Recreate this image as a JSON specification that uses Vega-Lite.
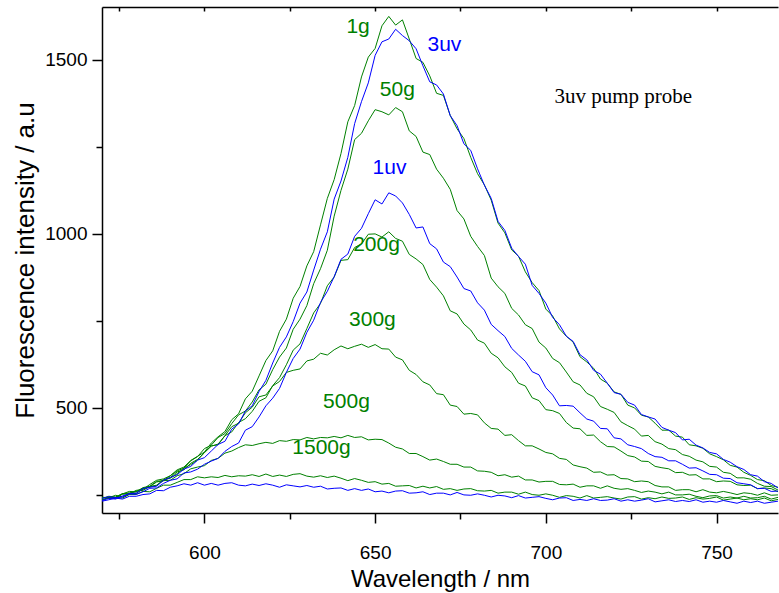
{
  "$schema": "https://vega.github.io/schema/vega-lite/v6.json",
  "width": 676,
  "height": 506,
  "autosize": {"type": "none"},
  "padding": {"left": 102, "top": 7, "right": 1, "bottom": 80},
  "background": "white",
  "config": {"view": {"stroke": null}, "font": "Liberation Sans"},
  "datasets": {
    "spectra": [
      {"nm":570,"g1":240,"uv3":240,"g50":243,"uv1":234,"g200":243,"g300":243,"g500":236,"g1500":235,"uv0":232},
      {"nm":572,"g1":246,"uv3":245,"g50":242,"uv1":240,"g200":240,"g300":242,"g500":242,"g1500":242,"uv0":236},
      {"nm":574,"g1":244,"uv3":242,"g50":240,"uv1":238,"g200":242,"g300":243,"g500":249,"g1500":241,"uv0":241},
      {"nm":576,"g1":254,"uv3":244,"g50":253,"uv1":247,"g200":252,"g300":253,"g500":244,"g1500":241,"uv0":238},
      {"nm":578,"g1":253,"uv3":254,"g50":256,"uv1":253,"g200":253,"g300":260,"g500":253,"g1500":251,"uv0":246},
      {"nm":580,"g1":263,"uv3":255,"g50":259,"uv1":252,"g200":254,"g300":259,"g500":261,"g1500":251,"uv0":246},
      {"nm":582,"g1":266,"uv3":268,"g50":271,"uv1":259,"g200":267,"g300":269,"g500":263,"g1500":260,"uv0":251},
      {"nm":584,"g1":280,"uv3":272,"g50":275,"uv1":269,"g200":273,"g300":274,"g500":274,"g1500":259,"uv0":253},
      {"nm":586,"g1":292,"uv3":275,"g50":289,"uv1":270,"g200":277,"g300":287,"g500":278,"g1500":269,"uv0":263},
      {"nm":588,"g1":296,"uv3":292,"g50":291,"uv1":283,"g200":294,"g300":291,"g500":291,"g1500":278,"uv0":262},
      {"nm":590,"g1":305,"uv3":300,"g50":305,"uv1":292,"g200":298,"g300":300,"g500":292,"g1500":278,"uv0":272},
      {"nm":592,"g1":322,"uv3":308,"g50":319,"uv1":296,"g200":311,"g300":316,"g500":305,"g1500":286,"uv0":276},
      {"nm":594,"g1":330,"uv3":324,"g50":327,"uv1":313,"g200":327,"g300":322,"g500":311,"g1500":294,"uv0":282},
      {"nm":596,"g1":349,"uv3":332,"g50":348,"uv1":316,"g200":337,"g300":341,"g500":325,"g1500":294,"uv0":278},
      {"nm":598,"g1":361,"uv3":350,"g50":360,"uv1":324,"g200":350,"g300":352,"g500":330,"g1500":302,"uv0":285},
      {"nm":600,"g1":373,"uv3":357,"g50":383,"uv1":338,"g200":372,"g300":371,"g500":334,"g1500":299,"uv0":278},
      {"nm":602,"g1":399,"uv3":376,"g50":393,"uv1":347,"g200":390,"g300":391,"g500":349,"g1500":302,"uv0":283},
      {"nm":604,"g1":417,"uv3":395,"g50":415,"uv1":355,"g200":396,"g300":394,"g500":355,"g1500":300,"uv0":278},
      {"nm":606,"g1":432,"uv3":404,"g50":426,"uv1":375,"g200":420,"g300":420,"g500":370,"g1500":306,"uv0":283},
      {"nm":608,"g1":466,"uv3":439,"g50":455,"uv1":389,"g200":431,"g300":446,"g500":376,"g1500":302,"uv0":285},
      {"nm":610,"g1":483,"uv3":454,"g50":480,"uv1":399,"g200":458,"g300":456,"g500":386,"g1500":305,"uv0":278},
      {"nm":612,"g1":526,"uv3":491,"g50":491,"uv1":436,"g200":469,"g300":486,"g500":394,"g1500":304,"uv0":276},
      {"nm":614,"g1":548,"uv3":506,"g50":517,"uv1":446,"g200":490,"g300":502,"g500":392,"g1500":308,"uv0":281},
      {"nm":616,"g1":592,"uv3":547,"g50":552,"uv1":474,"g200":519,"g300":532,"g500":397,"g1500":303,"uv0":277},
      {"nm":618,"g1":636,"uv3":579,"g50":568,"uv1":506,"g200":529,"g300":537,"g500":401,"g1500":310,"uv0":282},
      {"nm":620,"g1":664,"uv3":629,"g50":610,"uv1":528,"g200":564,"g300":563,"g500":398,"g1500":303,"uv0":278},
      {"nm":622,"g1":720,"uv3":674,"g50":646,"uv1":556,"g200":587,"g300":576,"g500":406,"g1500":307,"uv0":272},
      {"nm":624,"g1":755,"uv3":704,"g50":672,"uv1":602,"g200":624,"g300":602,"g500":404,"g1500":303,"uv0":279},
      {"nm":626,"g1":815,"uv3":748,"g50":726,"uv1":642,"g200":666,"g300":608,"g500":409,"g1500":309,"uv0":276},
      {"nm":628,"g1":849,"uv3":801,"g50":755,"uv1":669,"g200":684,"g300":612,"g500":408,"g1500":311,"uv0":273},
      {"nm":630,"g1":908,"uv3":833,"g50":794,"uv1":717,"g200":728,"g300":635,"g500":415,"g1500":304,"uv0":277},
      {"nm":632,"g1":949,"uv3":896,"g50":857,"uv1":752,"g200":773,"g300":640,"g500":411,"g1500":301,"uv0":272},
      {"nm":634,"g1":1026,"uv3":956,"g50":900,"uv1":803,"g200":800,"g300":657,"g500":415,"g1500":305,"uv0":275},
      {"nm":636,"g1":1102,"uv3":1006,"g50":953,"uv1":835,"g200":851,"g300":652,"g500":414,"g1500":300,"uv0":267},
      {"nm":638,"g1":1156,"uv3":1100,"g50":1051,"uv1":877,"g200":876,"g300":667,"g500":418,"g1500":304,"uv0":269},
      {"nm":640,"g1":1231,"uv3":1152,"g50":1125,"uv1":927,"g200":924,"g300":678,"g500":414,"g1500":298,"uv0":270},
      {"nm":642,"g1":1322,"uv3":1220,"g50":1186,"uv1":942,"g200":926,"g300":670,"g500":421,"g1500":291,"uv0":263},
      {"nm":644,"g1":1369,"uv3":1317,"g50":1271,"uv1":993,"g200":961,"g300":677,"g500":415,"g1500":297,"uv0":268},
      {"nm":646,"g1":1451,"uv3":1380,"g50":1289,"uv1":1016,"g200":971,"g300":683,"g500":417,"g1500":292,"uv0":263},
      {"nm":648,"g1":1508,"uv3":1434,"g50":1325,"uv1":1058,"g200":999,"g300":674,"g500":408,"g1500":286,"uv0":267},
      {"nm":650,"g1":1533,"uv3":1513,"g50":1357,"uv1":1098,"g200":1000,"g300":682,"g500":410,"g1500":288,"uv0":259},
      {"nm":652,"g1":1598,"uv3":1552,"g50":1351,"uv1":1086,"g200":991,"g300":670,"g500":409,"g1500":281,"uv0":261},
      {"nm":654,"g1":1625,"uv3":1560,"g50":1342,"uv1":1118,"g200":1006,"g300":669,"g500":399,"g1500":283,"uv0":256},
      {"nm":656,"g1":1600,"uv3":1588,"g50":1363,"uv1":1109,"g200":987,"g300":646,"g500":387,"g1500":275,"uv0":261},
      {"nm":658,"g1":1615,"uv3":1570,"g50":1351,"uv1":1089,"g200":979,"g300":638,"g500":382,"g1500":276,"uv0":262},
      {"nm":660,"g1":1560,"uv3":1555,"g50":1296,"uv1":1056,"g200":941,"g300":608,"g500":369,"g1500":277,"uv0":255},
      {"nm":662,"g1":1504,"uv3":1532,"g50":1280,"uv1":1017,"g200":928,"g300":596,"g500":369,"g1500":270,"uv0":256},
      {"nm":664,"g1":1493,"uv3":1483,"g50":1235,"uv1":1020,"g200":912,"g300":575,"g500":360,"g1500":275,"uv0":259},
      {"nm":666,"g1":1454,"uv3":1437,"g50":1228,"uv1":972,"g200":869,"g300":566,"g500":350,"g1500":270,"uv0":251},
      {"nm":668,"g1":1404,"uv3":1428,"g50":1186,"uv1":957,"g200":847,"g300":541,"g500":353,"g1500":274,"uv0":255},
      {"nm":670,"g1":1398,"uv3":1402,"g50":1160,"uv1":919,"g200":822,"g300":538,"g500":346,"g1500":266,"uv0":255},
      {"nm":672,"g1":1340,"uv3":1340,"g50":1128,"uv1":906,"g200":779,"g300":508,"g500":338,"g1500":268,"uv0":250},
      {"nm":674,"g1":1302,"uv3":1311,"g50":1067,"uv1":876,"g200":770,"g300":504,"g500":338,"g1500":263,"uv0":257},
      {"nm":676,"g1":1274,"uv3":1259,"g50":1043,"uv1":843,"g200":741,"g300":482,"g500":330,"g1500":267,"uv0":250},
      {"nm":678,"g1":1220,"uv3":1240,"g50":993,"uv1":836,"g200":724,"g300":484,"g500":330,"g1500":268,"uv0":249},
      {"nm":680,"g1":1173,"uv3":1187,"g50":964,"uv1":802,"g200":695,"g300":480,"g500":319,"g1500":262,"uv0":253},
      {"nm":682,"g1":1141,"uv3":1140,"g50":938,"uv1":781,"g200":686,"g300":457,"g500":318,"g1500":261,"uv0":249},
      {"nm":684,"g1":1097,"uv3":1102,"g50":873,"uv1":740,"g200":657,"g300":441,"g500":315,"g1500":263,"uv0":244},
      {"nm":686,"g1":1031,"uv3":1036,"g50":848,"uv1":722,"g200":644,"g300":439,"g500":305,"g1500":255,"uv0":249},
      {"nm":688,"g1":1003,"uv3":1010,"g50":829,"uv1":705,"g200":618,"g300":421,"g500":308,"g1500":258,"uv0":247},
      {"nm":690,"g1":954,"uv3":959,"g50":786,"uv1":671,"g200":602,"g300":423,"g500":301,"g1500":258,"uv0":242},
      {"nm":692,"g1":936,"uv3":935,"g50":767,"uv1":652,"g200":571,"g300":406,"g500":304,"g1500":252,"uv0":248},
      {"nm":694,"g1":891,"uv3":913,"g50":739,"uv1":634,"g200":563,"g300":391,"g500":293,"g1500":258,"uv0":241},
      {"nm":696,"g1":860,"uv3":852,"g50":728,"uv1":604,"g200":529,"g300":391,"g500":293,"g1500":251,"uv0":243},
      {"nm":698,"g1":837,"uv3":829,"g50":689,"uv1":595,"g200":521,"g300":382,"g500":287,"g1500":249,"uv0":245},
      {"nm":700,"g1":784,"uv3":801,"g50":672,"uv1":558,"g200":495,"g300":372,"g500":289,"g1500":253,"uv0":240},
      {"nm":702,"g1":764,"uv3":760,"g50":642,"uv1":537,"g200":492,"g300":368,"g500":289,"g1500":249,"uv0":236},
      {"nm":704,"g1":727,"uv3":739,"g50":630,"uv1":506,"g200":484,"g300":355,"g500":280,"g1500":243,"uv0":241},
      {"nm":706,"g1":706,"uv3":706,"g50":603,"uv1":507,"g200":458,"g300":352,"g500":279,"g1500":248,"uv0":242},
      {"nm":708,"g1":689,"uv3":691,"g50":575,"uv1":505,"g200":442,"g300":336,"g500":281,"g1500":246,"uv0":234},
      {"nm":710,"g1":647,"uv3":653,"g50":566,"uv1":486,"g200":440,"g300":331,"g500":272,"g1500":241,"uv0":237},
      {"nm":712,"g1":632,"uv3":638,"g50":542,"uv1":468,"g200":421,"g300":327,"g500":276,"g1500":248,"uv0":234},
      {"nm":714,"g1":614,"uv3":608,"g50":532,"uv1":462,"g200":422,"g300":315,"g500":276,"g1500":241,"uv0":239},
      {"nm":716,"g1":583,"uv3":597,"g50":504,"uv1":441,"g200":403,"g300":316,"g500":269,"g1500":243,"uv0":234},
      {"nm":718,"g1":571,"uv3":571,"g50":496,"uv1":440,"g200":389,"g300":307,"g500":276,"g1500":245,"uv0":235},
      {"nm":720,"g1":546,"uv3":544,"g50":487,"uv1":414,"g200":388,"g300":308,"g500":269,"g1500":241,"uv0":239},
      {"nm":722,"g1":539,"uv3":539,"g50":460,"uv1":411,"g200":376,"g300":297,"g500":266,"g1500":238,"uv0":232},
      {"nm":724,"g1":508,"uv3":516,"g50":449,"uv1":394,"g200":363,"g300":296,"g500":268,"g1500":244,"uv0":236},
      {"nm":726,"g1":500,"uv3":508,"g50":439,"uv1":389,"g200":359,"g300":288,"g500":263,"g1500":245,"uv0":232},
      {"nm":728,"g1":479,"uv3":481,"g50":419,"uv1":383,"g200":347,"g300":290,"g500":257,"g1500":238,"uv0":235},
      {"nm":730,"g1":474,"uv3":474,"g50":421,"uv1":369,"g200":346,"g300":288,"g500":261,"g1500":242,"uv0":239},
      {"nm":732,"g1":456,"uv3":468,"g50":403,"uv1":360,"g200":332,"g300":277,"g500":258,"g1500":239,"uv0":230},
      {"nm":734,"g1":436,"uv3":444,"g50":396,"uv1":358,"g200":328,"g300":273,"g500":253,"g1500":244,"uv0":233},
      {"nm":736,"g1":436,"uv3":436,"g50":383,"uv1":348,"g200":325,"g300":273,"g500":258,"g1500":240,"uv0":236},
      {"nm":738,"g1":419,"uv3":429,"g50":380,"uv1":348,"g200":314,"g300":263,"g500":250,"g1500":241,"uv0":231},
      {"nm":740,"g1":416,"uv3":408,"g50":366,"uv1":338,"g200":315,"g300":265,"g500":250,"g1500":244,"uv0":234},
      {"nm":742,"g1":394,"uv3":410,"g50":361,"uv1":327,"g200":307,"g300":265,"g500":252,"g1500":237,"uv0":231},
      {"nm":744,"g1":391,"uv3":393,"g50":350,"uv1":328,"g200":308,"g300":259,"g500":246,"g1500":242,"uv0":236},
      {"nm":746,"g1":384,"uv3":385,"g50":345,"uv1":319,"g200":296,"g300":265,"g500":242,"g1500":238,"uv0":229},
      {"nm":748,"g1":368,"uv3":372,"g50":332,"uv1":309,"g200":296,"g300":258,"g500":247,"g1500":240,"uv0":232},
      {"nm":750,"g1":360,"uv3":368,"g50":330,"uv1":308,"g200":288,"g300":256,"g500":248,"g1500":244,"uv0":229},
      {"nm":752,"g1":351,"uv3":352,"g50":315,"uv1":298,"g200":290,"g300":260,"g500":241,"g1500":235,"uv0":234},
      {"nm":754,"g1":335,"uv3":344,"g50":312,"uv1":297,"g200":289,"g300":256,"g500":244,"g1500":238,"uv0":230},
      {"nm":756,"g1":330,"uv3":331,"g50":299,"uv1":285,"g200":279,"g300":251,"g500":241,"g1500":241,"uv0":226},
      {"nm":758,"g1":315,"uv3":323,"g50":299,"uv1":282,"g200":277,"g300":256,"g500":246,"g1500":236,"uv0":232},
      {"nm":760,"g1":306,"uv3":308,"g50":295,"uv1":279,"g200":278,"g300":254,"g500":241,"g1500":239,"uv0":228},
      {"nm":762,"g1":294,"uv3":304,"g50":283,"uv1":268,"g200":268,"g300":249,"g500":242,"g1500":236,"uv0":232},
      {"nm":764,"g1":291,"uv3":288,"g50":275,"uv1":269,"g200":270,"g300":256,"g500":246,"g1500":241,"uv0":226},
      {"nm":766,"g1":277,"uv3":283,"g50":274,"uv1":260,"g200":268,"g300":249,"g500":238,"g1500":233,"uv0":229},
      {"nm":768,"g1":272,"uv3":270,"g50":264,"uv1":261,"g200":259,"g300":250,"g500":243,"g1500":237,"uv0":232}
    ],
    "labels": [
      {"nm":645.0,"v":1595,"label":"1g","col":"#008000"},
      {"nm":670.3,"v":1543,"label":"3uv","col":"#0000ff"},
      {"nm":656.5,"v":1414,"label":"50g","col":"#008000"},
      {"nm":654.2,"v":1190,"label":"1uv","col":"#0000ff"},
      {"nm":650.4,"v":968,"label":"200g","col":"#008000"},
      {"nm":649.2,"v":753,"label":"300g","col":"#008000"},
      {"nm":641.6,"v":517,"label":"500g","col":"#008000"},
      {"nm":634.3,"v":385,"label":"1500g","col":"#008000"}
    ],
    "note": [
      {"nm":722.7,"v":1394,"label":"3uv pump probe"}
    ]
  },
  "layer": [
    {
      "data": {"name": "spectra"},
      "transform": [{"fold": ["g300","g500","g1500","g200","g50","g1","uv0","uv1","uv3"], "as": ["series","v"]}],
      "mark": {"type": "line", "strokeWidth": 1, "clip": true},
      "encoding": {
        "x": {
          "field": "nm", "type": "quantitative",
          "scale": {"domain": [570, 768], "nice": false, "zero": false},
          "axis": {
            "orient": "bottom",
            "values": [575, 600, 625, 650, 675, 700, 725, 750],
            "labelExpr": "datum.value % 50 == 0 ? datum.label : ''",
            "tickSize": {"condition": {"test": "datum.value % 50 == 0", "value": 10}, "value": 6},
            "tickWidth": 1.5, "tickColor": "black",
            "domainColor": "black", "domainWidth": 1.5,
            "labelFontSize": 19, "labelColor": "black", "labelPadding": 20,
            "labelFont": "Liberation Sans",
            "grid": false,
            "title": "Wavelength / nm", "titleFontSize": 24, "titleFontWeight": "normal",
            "titleColor": "black", "titleFont": "Liberation Sans", "titlePadding": 5
          }
        },
        "y": {
          "field": "v", "type": "quantitative",
          "title": "Fluorescence intensity / a.u",
          "scale": {"domain": [198, 1652], "nice": false, "zero": false},
          "axis": {
            "values": [250, 500, 750, 1000, 1250, 1500],
            "labelExpr": "datum.value % 500 == 0 ? datum.label : ''",
            "format": "d",
            "tickSize": {"condition": {"test": "datum.value % 500 == 0", "value": 10}, "value": 6},
            "tickWidth": 1.5, "tickColor": "black",
            "domainColor": "black", "domainWidth": 1.5,
            "labelFontSize": 19, "labelColor": "black", "labelPadding": 5,
            "labelFont": "Liberation Sans",
            "grid": false,
            "title": "Fluorescence intensity / a.u", "titleFontSize": 26, "titleFontWeight": "normal",
            "titleColor": "black", "titleFont": "Liberation Sans", "titlePadding": 6
          }
        },
        "color": {
          "field": "series", "type": "nominal",
          "scale": {
            "domain": ["g300","g500","g1500","g200","g50","g1","uv0","uv1","uv3"],
            "range": ["#008000","#008000","#008000","#008000","#008000","#008000","#0000ff","#0000ff","#0000ff"]
          },
          "legend": null
        }
      }
    },
    {
      "data": {"name": "labels"},
      "mark": {"type": "text", "font": "Liberation Sans", "fontSize": 21, "align": "center", "baseline": "middle"},
      "encoding": {
        "x": {
          "field": "nm", "type": "quantitative",
          "axis": {
            "orient": "top",
            "values": [575, 600, 625, 650, 675, 700, 725, 750],
            "labels": false, "tickSize": -4, "tickWidth": 1.5, "tickColor": "black",
            "domainColor": "black", "domainWidth": 1.5, "grid": false, "title": null
          }
        },
        "y": {"field": "v", "type": "quantitative", "title": "Fluorescence intensity / a.u"},
        "text": {"field": "label"},
        "color": {"field": "col", "type": "nominal", "scale": null}
      }
    },
    {
      "data": {"name": "note"},
      "mark": {"type": "text", "font": "Liberation Serif", "fontSize": 21, "align": "center", "baseline": "middle", "color": "black"},
      "encoding": {
        "x": {"field": "nm", "type": "quantitative", "axis": null},
        "y": {"field": "v", "type": "quantitative", "title": "Fluorescence intensity / a.u"},
        "text": {"field": "label"}
      }
    }
  ],
  "resolve": {"axis": {"x": "independent"}}
}
